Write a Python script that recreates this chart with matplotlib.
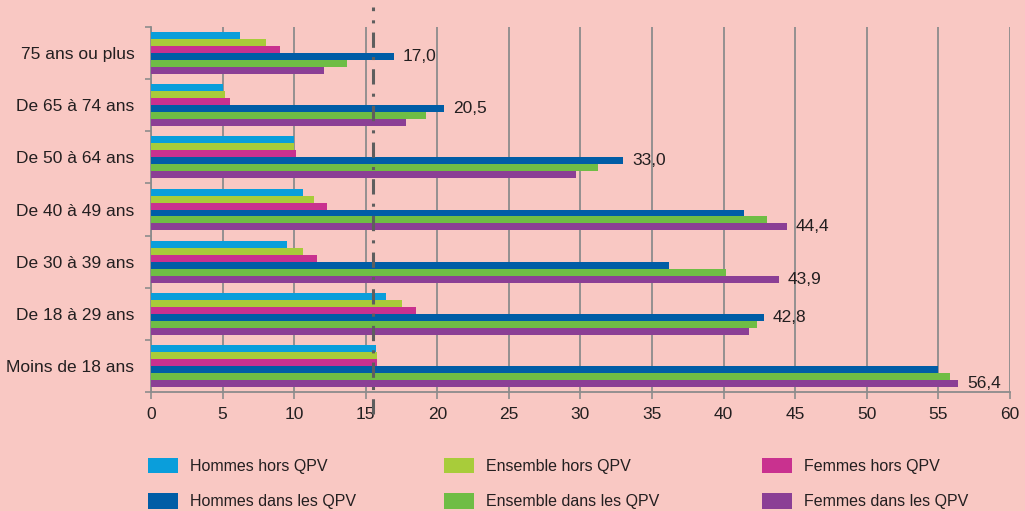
import numpy as np
import matplotlib
matplotlib.use("Agg")
import matplotlib.pyplot as plt
from matplotlib.patches import Patch
from matplotlib.lines import Line2D

plt.rcParams['font.family'] = ['Liberation Sans', 'DejaVu Sans']

# Données (de haut en bas)
categories = ["75 ans ou plus", "De 65 à 74 ans", "De 50 à 64 ans", "De 40 à 49 ans",
              "De 30 à 39 ans", "De 18 à 29 ans", "Moins de 18 ans"]
series_names = ["Hommes hors QPV", "Ensemble hors QPV", "Femmes hors QPV",
                "Hommes dans les QPV", "Ensemble dans les QPV", "Femmes dans les QPV"]
hommes_hors = [6.2, 5.0, 10.0, 10.6, 9.5, 16.4, 15.7]
ensemble_hors = [8.0, 5.2, 10.0, 11.4, 10.6, 17.5, 15.8]
femmes_hors = [9.0, 5.5, 10.1, 12.3, 11.6, 18.5, 15.8]
hommes_qpv = [17.0, 20.5, 33.0, 41.4, 36.2, 42.8, 55.0]
ensemble_qpv = [13.7, 19.2, 31.2, 43.0, 40.2, 42.3, 55.8]
femmes_qpv = [12.1, 17.8, 29.7, 44.4, 43.9, 41.8, 56.4]
reference = 15.5
xticks = list(range(0, 65, 5))

colors = ["#0A9EDB", "#A8CC3A", "#C9318F", "#005DA6", "#6FBD45", "#8B3F95"]
bg = "#F9C8C3"
txt = '#231F20'

series = [hommes_hors, ensemble_hors, femmes_hors, hommes_qpv, ensemble_qpv, femmes_qpv]

fig = plt.figure(figsize=(10.25, 5.11), dpi=100, facecolor=bg)
ax = fig.add_axes([0.1473, 0.233, 0.838, 0.714], facecolor=bg)

n = len(categories)
bh = 0.134
y_centers = np.arange(n)[::-1]  # première catégorie en haut
for j, vals in enumerate(series):
    offs = (2.5 - j) * bh
    ax.barh(y_centers + offs, vals, height=bh, color=colors[j], zorder=3,
            edgecolor='none')

# Étiquettes de la valeur maximale QPV
for i in range(n):
    qpv = [hommes_qpv[i], ensemble_qpv[i], femmes_qpv[i]]
    k = int(np.argmax(qpv))
    offs = (2.5 - (3 + k)) * bh
    ax.text(qpv[k] + 0.6, y_centers[i] + offs, f"{qpv[k]:.1f}".replace('.', ','),
            va='center', ha='left', fontsize=12.5, color=txt, zorder=4)

ax.set_xlim(0, 60)
ax.set_ylim(-0.5, n - 0.5)
ax.set_xticks(xticks)
ax.set_xticklabels([str(t) for t in xticks], fontsize=12.5, color=txt)
ax.set_yticks(y_centers)
ax.set_yticklabels(categories, fontsize=12.5, color=txt)
ax.set_yticks(np.arange(-0.5, n, 1.0), minor=True)
ax.tick_params(axis='y', which='major', length=0, pad=12)
ax.tick_params(axis='y', which='minor', length=4, color='#8C8C8C', width=1.2)
ax.tick_params(axis='x', length=5, color='#8C8C8C', width=1.2, pad=6)

ax.grid(axis='x', color='#8C8C8C', linewidth=1.3, zorder=1)
for s in ['top', 'right']:
    ax.spines[s].set_visible(False)
for s in ['left', 'bottom']:
    ax.spines[s].set_color('#8C8C8C')
    ax.spines[s].set_linewidth(1.3)

# Ligne de référence en tirets-points
ax.add_line(Line2D([reference, reference], [-0.06, 1.055], transform=ax.get_xaxis_transform(),
                   color='#5E5E5E', linewidth=2.2, linestyle=(0, (5, 3, 1, 3)),
                   clip_on=False, zorder=5))

# Légende : trois colonnes placées à la main
handles = [Patch(facecolor=c, edgecolor='none') for c in colors]
col_x = [0.13, 0.419, 0.729]
for c in range(3):
    fig.legend([handles[c], handles[c + 3]], [series_names[c], series_names[c + 3]],
               loc='lower left', bbox_to_anchor=(col_x[c], -0.025), ncol=1, frameon=False,
               fontsize=11.5, handlelength=1.9, handleheight=1.15,
               labelspacing=1.2, handletextpad=0.75, labelcolor=txt)

fig.savefig("out.png", dpi=100, facecolor=bg)
